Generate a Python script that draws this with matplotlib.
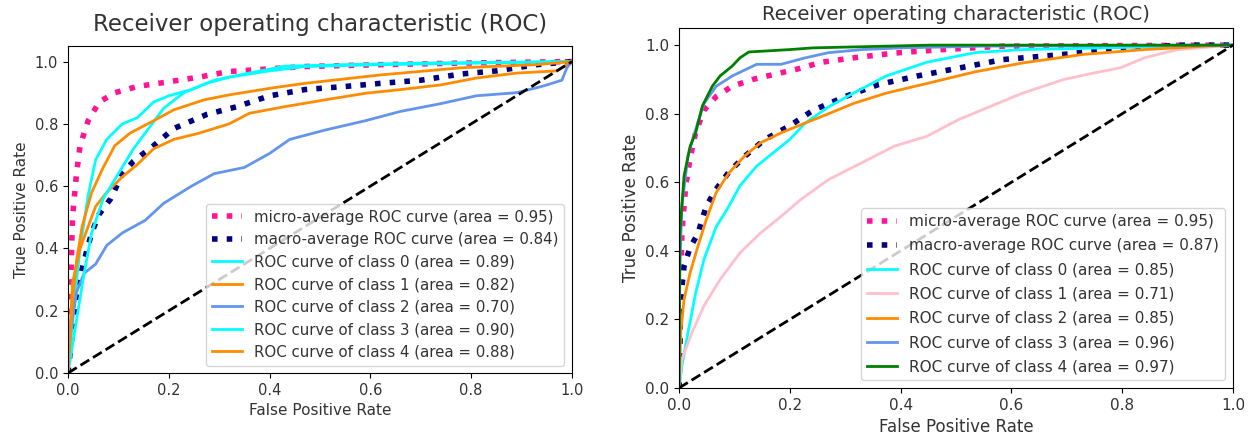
import numpy as np
import matplotlib
matplotlib.use("Agg")
import matplotlib.pyplot as plt

# ---- left panel data ----
L_micro_x = [0, 0.005, 0.009, 0.017, 0.024, 0.04, 0.062, 0.093, 0.138, 0.2, 0.26, 0.32, 0.47, 0.62, 0.78, 1]
L_micro_y = [0, 0.27, 0.5, 0.64, 0.73, 0.81, 0.87, 0.90, 0.92, 0.935, 0.95, 0.968, 0.984, 0.99, 0.995, 1]
L_macro_x = [0, 0.017, 0.032, 0.047, 0.062, 0.085, 0.108, 0.13, 0.17, 0.21, 0.275, 0.335, 0.4, 0.47, 0.55, 0.62, 0.7, 0.78, 0.85, 0.93, 1]
L_macro_y = [0, 0.26, 0.36, 0.45, 0.51, 0.56, 0.64, 0.68, 0.73, 0.785, 0.83, 0.855, 0.89, 0.91, 0.92, 0.93, 0.94, 0.96, 0.97, 0.99, 1]
L_c0_x = [0, 0.013, 0.024, 0.04, 0.055, 0.077, 0.108, 0.138, 0.17, 0.2, 0.245, 0.29, 0.35, 0.43, 0.55, 0.7, 1]
L_c0_y = [0, 0.235, 0.40, 0.57, 0.685, 0.75, 0.80, 0.82, 0.87, 0.89, 0.91, 0.94, 0.96, 0.985, 0.99, 0.995, 1]
L_c1_x = [0, 0.009, 0.024, 0.04, 0.055, 0.077, 0.108, 0.138, 0.17, 0.21, 0.26, 0.32, 0.36, 0.43, 0.51, 0.59, 0.66, 0.74, 0.81, 0.89, 0.97, 1]
L_c1_y = [0, 0.29, 0.40, 0.47, 0.535, 0.58, 0.63, 0.67, 0.72, 0.75, 0.77, 0.80, 0.834, 0.855, 0.877, 0.898, 0.91, 0.925, 0.947, 0.963, 0.97, 1]
L_c2_x = [0, 0.005, 0.017, 0.032, 0.055, 0.077, 0.108, 0.153, 0.19, 0.245, 0.29, 0.35, 0.4, 0.44, 0.51, 0.59, 0.66, 0.74, 0.81, 0.89, 0.94, 0.98, 0.99, 1]
L_c2_y = [0, 0.13, 0.26, 0.32, 0.35, 0.41, 0.45, 0.49, 0.545, 0.60, 0.64, 0.66, 0.705, 0.75, 0.78, 0.81, 0.84, 0.865, 0.89, 0.90, 0.92, 0.94, 0.98, 1]
L_c3_x = [0, 0.017, 0.032, 0.047, 0.07, 0.1, 0.13, 0.16, 0.19, 0.23, 0.275, 0.32, 0.4, 0.47, 0.62, 1]
L_c3_y = [0, 0.17, 0.32, 0.45, 0.56, 0.64, 0.72, 0.785, 0.85, 0.90, 0.93, 0.95, 0.97, 0.984, 0.99, 1]
L_c4_x = [0, 0.009, 0.017, 0.028, 0.047, 0.07, 0.093, 0.123, 0.17, 0.21, 0.27, 0.32, 0.4, 0.47, 0.62, 0.78, 0.93, 1]
L_c4_y = [0, 0.235, 0.36, 0.47, 0.58, 0.66, 0.73, 0.77, 0.81, 0.845, 0.877, 0.893, 0.914, 0.93, 0.957, 0.98, 0.99, 1]
L_areas = {"micro": 0.95, "macro": 0.84, 0: 0.89, 1: 0.82, 2: 0.70, 3: 0.90, 4: 0.88}

# ---- right panel data ----
R_micro_x = [0, 0.005, 0.012, 0.02, 0.03, 0.045, 0.067, 0.096, 0.133, 0.17, 0.213, 0.257, 0.315, 0.39, 0.476, 0.585, 1]
R_micro_y = [0, 0.45, 0.59, 0.67, 0.745, 0.81, 0.85, 0.88, 0.90, 0.914, 0.93, 0.95, 0.963, 0.977, 0.987, 0.997, 1]
R_macro_x = [0, 0.003, 0.009, 0.02, 0.034, 0.049, 0.067, 0.09, 0.118, 0.155, 0.2, 0.242, 0.3, 0.36, 0.43, 0.505, 0.585, 0.695, 0.804, 0.91, 1]
R_macro_y = [0, 0.26, 0.355, 0.41, 0.45, 0.53, 0.58, 0.63, 0.675, 0.725, 0.765, 0.81, 0.85, 0.885, 0.91, 0.933, 0.958, 0.973, 0.992, 1, 1]
R_c0_x = [0, 0.005, 0.016, 0.03, 0.045, 0.067, 0.09, 0.11, 0.14, 0.17, 0.2, 0.228, 0.27, 0.315, 0.374, 0.447, 0.534, 0.62, 0.768, 1]
R_c0_y = [0, 0.063, 0.16, 0.277, 0.375, 0.47, 0.53, 0.59, 0.647, 0.686, 0.725, 0.773, 0.82, 0.86, 0.91, 0.95, 0.978, 0.987, 0.992, 1]
R_c1_x = [0, 0.005, 0.023, 0.045, 0.074, 0.11, 0.147, 0.184, 0.22, 0.27, 0.33, 0.388, 0.447, 0.505, 0.563, 0.62, 0.695, 0.753, 0.797, 0.84, 0.9, 1]
R_c1_y = [0, 0.083, 0.16, 0.24, 0.316, 0.394, 0.452, 0.50, 0.55, 0.608, 0.657, 0.705, 0.734, 0.783, 0.822, 0.86, 0.9, 0.92, 0.934, 0.963, 0.987, 1]
R_c2_x = [0, 0.003, 0.009, 0.02, 0.034, 0.049, 0.067, 0.09, 0.118, 0.147, 0.184, 0.228, 0.27, 0.315, 0.374, 0.447, 0.534, 0.62, 0.73, 0.84, 0.95, 1]
R_c2_y = [0, 0.16, 0.258, 0.336, 0.413, 0.49, 0.57, 0.627, 0.676, 0.715, 0.744, 0.773, 0.80, 0.83, 0.86, 0.888, 0.922, 0.948, 0.973, 0.987, 0.997, 1]
R_c3_x = [0, 0.0015, 0.005, 0.016, 0.03, 0.045, 0.067, 0.096, 0.14, 0.184, 0.228, 0.27, 0.33, 0.4, 0.55, 1]
R_c3_y = [0, 0.355, 0.53, 0.676, 0.754, 0.83, 0.88, 0.91, 0.944, 0.944, 0.963, 0.978, 0.987, 0.992, 0.997, 1]
R_c4_x = [0, 0.0015, 0.009, 0.02, 0.03, 0.042, 0.06, 0.074, 0.096, 0.11, 0.126, 0.2, 0.242, 0.454, 1]
R_c4_y = [0, 0.45, 0.618, 0.705, 0.744, 0.822, 0.88, 0.91, 0.939, 0.963, 0.98, 0.987, 0.992, 1.0, 1]
R_areas = {"micro": 0.95, "macro": 0.87, 0: 0.85, 1: 0.71, 2: 0.85, 3: 0.96, 4: 0.97}

plt.rcParams["text.color"] = "#333333"
plt.rcParams["axes.labelcolor"] = "#333333"
plt.rcParams["xtick.labelcolor"] = "#333333"
plt.rcParams["ytick.labelcolor"] = "#333333"

fig = plt.figure(figsize=(12.54, 4.42), dpi=100)
axL = fig.add_axes([0.0542, 0.156, 0.4019, 0.740])
axR = fig.add_axes([0.5415, 0.1222, 0.4418, 0.8145])


def draw(ax, micro, macro, classes, colors, areas, title_size, title_pad, tick_size, label_size, leg_size, leg_space):
    ax.plot(micro[0], micro[1], color="deeppink", linestyle=":", linewidth=4,
            label="micro-average ROC curve (area = {0:0.2f})".format(areas["micro"]))
    ax.plot(macro[0], macro[1], color="navy", linestyle=":", linewidth=4,
            label="macro-average ROC curve (area = {0:0.2f})".format(areas["macro"]))
    for i, (cx, cy) in enumerate(classes):
        ax.plot(cx, cy, color=colors[i], lw=2,
                label="ROC curve of class {0} (area = {1:0.2f})".format(i, areas[i]))
    ax.plot([0, 1], [0, 1], "k--", lw=2)
    ax.set_xlim([0.0, 1.0])
    ax.set_ylim([0.0, 1.05])
    ax.set_xlabel("False Positive Rate", fontsize=label_size)
    ax.set_ylabel("True Positive Rate", fontsize=label_size)
    ax.set_title("Receiver operating characteristic (ROC)", fontsize=title_size, pad=title_pad)
    ax.tick_params(labelsize=tick_size)
    ax.legend(loc="lower right", fontsize=leg_size, labelspacing=leg_space)


draw(axL, (L_micro_x, L_micro_y), (L_macro_x, L_macro_y),
     [(L_c0_x, L_c0_y), (L_c1_x, L_c1_y), (L_c2_x, L_c2_y), (L_c3_x, L_c3_y), (L_c4_x, L_c4_y)],
     ["aqua", "darkorange", "cornflowerblue", "aqua", "darkorange"], L_areas,
     16.5, 11, 10.5, 11, 10.8, 0.5)
draw(axR, (R_micro_x, R_micro_y), (R_macro_x, R_macro_y),
     [(R_c0_x, R_c0_y), (R_c1_x, R_c1_y), (R_c2_x, R_c2_y), (R_c3_x, R_c3_y), (R_c4_x, R_c4_y)],
     ["aqua", "pink", "darkorange", "cornflowerblue", "green"], R_areas,
     14, 6, 11, 12, 11, 0.6)

fig.savefig("out.png", dpi=100)
